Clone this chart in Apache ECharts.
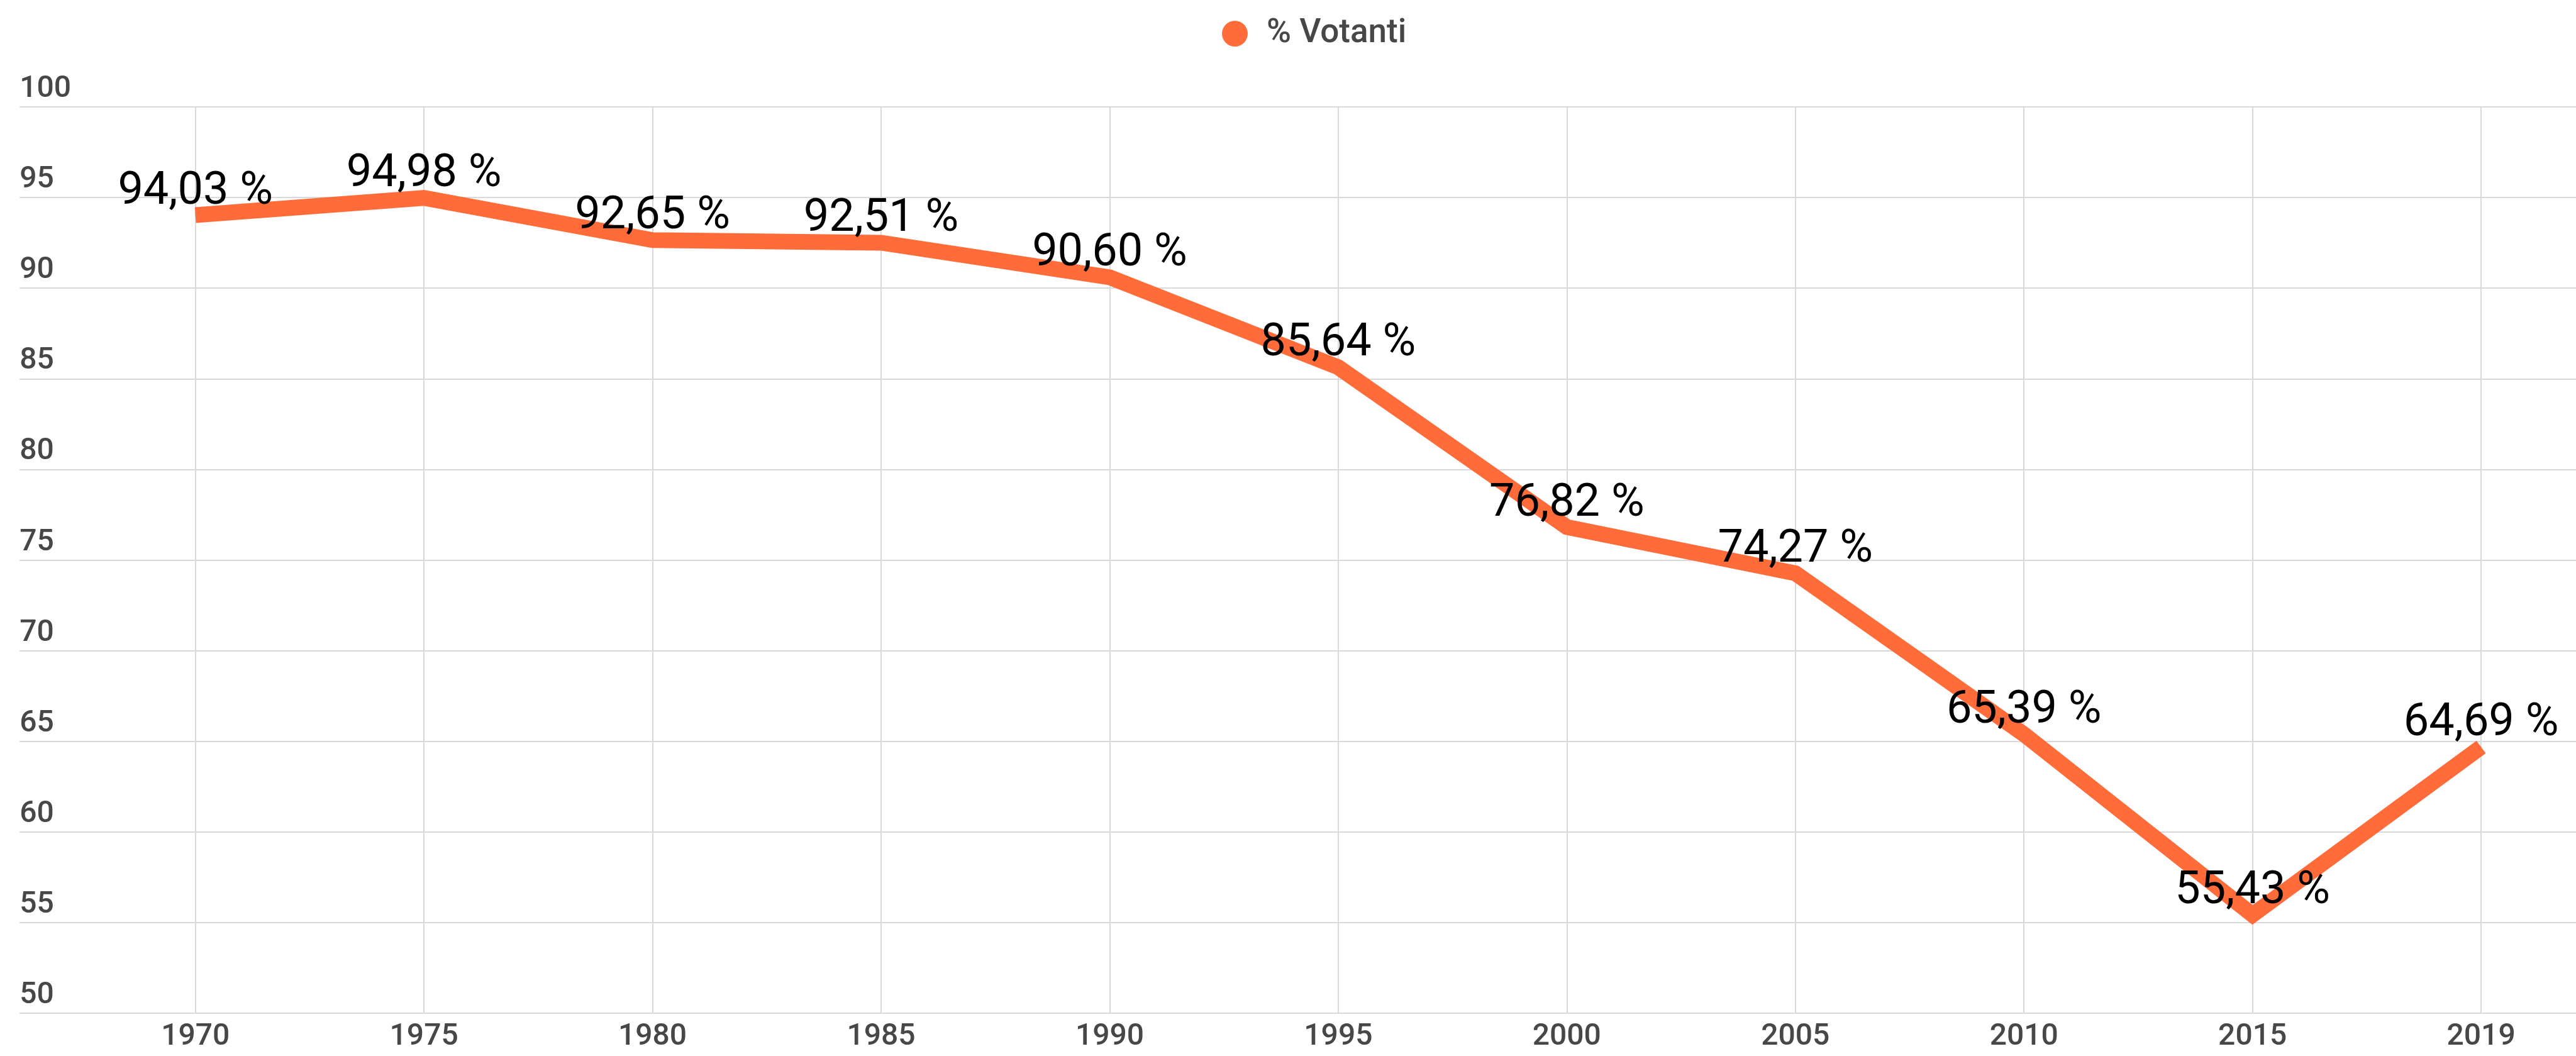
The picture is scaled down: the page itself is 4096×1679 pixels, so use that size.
<!DOCTYPE html>
<html>
<head>
<meta charset="utf-8">
<script src="https://cdn.jsdelivr.net/npm/echarts@6/dist/echarts.min.js"></script>
<style>
html,body{margin:0;padding:0;background:#fff;}
#main{width:4096px;height:1679px;}
</style>
</head>
<body>
<div id="main"></div>
<script>
const categories = ['1970','1975','1980','1985','1990','1995','2000','2005','2010','2015','2019'];
const votanti = [94.03, 94.98, 92.65, 92.51, 90.60, 85.64, 76.82, 74.27, 65.39, 55.43, 64.69];
const seriesName = '% Votanti';
const yMin = 50, yMax = 100, yStep = 5;

const ORANGE = '#FF6B39';
const GRID = '#d9d9d9';
const LABEL = '#474747';
const FONT = 'Roboto';

const chart = echarts.init(document.getElementById('main'), null, {renderer: 'canvas'});
chart.setOption({
  animation: false,
  backgroundColor: '#ffffff',
  legend: {
    data: [seriesName],
    left: 1938,
    top: 22,
    icon: 'circle',
    itemWidth: 41,
    itemHeight: 41,
    textStyle: {fontFamily: FONT, fontSize: 53, fontWeight: 500, color: LABEL, padding: [0, 0, 0, 25]}
  },
  grid: [
    {left: 31.3, right: 0, top: 170, bottom: 67.9},
    {left: 310.7, right: 150.9, top: 170, bottom: 67.9}
  ],
  xAxis: [
    {gridIndex: 0, type: 'value', show: false, min: 0, max: 1},
    {
      gridIndex: 1, type: 'category', data: categories, boundaryGap: false,
      axisLine: {show: false}, axisTick: {show: false},
      splitLine: {show: true, lineStyle: {color: GRID, width: 2}},
      axisLabel: {interval: 0, fontFamily: FONT, fontSize: 48, fontWeight: 500, color: LABEL, margin: 14}
    }
  ],
  yAxis: [
    {
      gridIndex: 0, type: 'value', min: yMin, max: yMax, interval: yStep,
      axisLine: {show: false}, axisTick: {show: false},
      splitLine: {show: true, lineStyle: {color: GRID, width: 2}},
      axisLabel: {inside: true, margin: 0, fontFamily: FONT, fontSize: 48, fontWeight: 500, color: LABEL, verticalAlign: 'bottom', padding: [0, 0, 4, 0]}
    },
    {gridIndex: 1, type: 'value', min: yMin, max: yMax, interval: yStep, show: false, splitLine: {show: false}}
  ],
  series: [{
    name: seriesName,
    type: 'line',
    xAxisIndex: 1,
    yAxisIndex: 1,
    data: votanti,
    symbol: 'circle',
    symbolSize: 1,
    itemStyle: {color: ORANGE},
    lineStyle: {color: ORANGE, width: 25, cap: 'butt', join: 'miter'},
    label: {
      show: true, position: 'top', distance: 0,
      fontFamily: FONT, fontSize: 72, color: '#000000',
      formatter: p => p.value.toFixed(2).replace('.', ',') + ' %'
    },
    labelLayout: {hideOverlap: false}
  }]
});
</script>
</body>
</html>
